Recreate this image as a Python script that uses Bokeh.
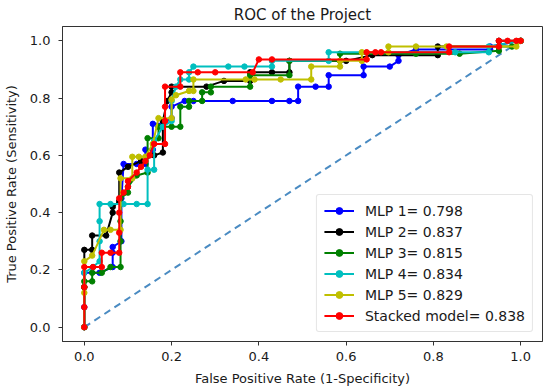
from bokeh.plotting import figure
from bokeh.models import Range1d, FixedTicker, PrintfTickFormatter, Legend, LegendItem
from bokeh.embed import file_html
from bokeh.resources import INLINE

# ---------------- data ----------------
labels = ["MLP 1= 0.798", "MLP 2= 0.837", "MLP 3= 0.815", "MLP 4= 0.834",
          "MLP 5= 0.829", "Stacked model= 0.838"]
colors = ["#0000ff", "#000000", "#008000", "#00bfbf", "#bfbf00", "#ff0000"]

mlp1_fpr = [0, 0, 0, 0.035, 0.065, 0.065, 0.065, 0.085, 0.085, 0.09, 0.12, 0.14, 0.14,
            0.157, 0.157, 0.18, 0.2, 0.2, 0.23, 0.25, 0.34, 0.43, 0.47, 0.49, 0.49,
            0.53, 0.56, 0.56, 0.64, 0.64, 0.7, 0.72, 0.72, 0.76, 0.93, 0.93, 1.0]
mlp1_tpr = [0, 0.07, 0.19, 0.19, 0.21, 0.26, 0.28, 0.30, 0.45, 0.57, 0.57, 0.57, 0.62,
            0.62, 0.71, 0.71, 0.73, 0.77, 0.79, 0.79, 0.79, 0.79, 0.79, 0.79, 0.84,
            0.84, 0.84, 0.88, 0.88, 0.91, 0.91, 0.93, 0.95, 0.97, 0.97, 0.98, 1.0]

mlp2_fpr = [0, 0, 0, 0.018, 0.018, 0.05, 0.065, 0.065, 0.08, 0.08, 0.1, 0.13, 0.16,
            0.18, 0.18, 0.19, 0.2, 0.2, 0.28, 0.32, 0.38, 0.38, 0.43, 0.47, 0.47,
            0.6, 0.66, 0.81, 0.81, 0.95, 0.95, 1.0]
mlp2_tpr = [0, 0.14, 0.27, 0.27, 0.32, 0.32, 0.40, 0.42, 0.44, 0.54, 0.56, 0.58, 0.60,
            0.61, 0.72, 0.79, 0.82, 0.84, 0.84, 0.86, 0.86, 0.89, 0.89, 0.89, 0.93,
            0.93, 0.95, 0.95, 0.98, 0.98, 1.0, 1.0]

mlp3_fpr = [0, 0, 0, 0.018, 0.018, 0.04, 0.06, 0.083, 0.083, 0.083, 0.083, 0.1, 0.1,
            0.12, 0.145, 0.145, 0.17, 0.17, 0.2, 0.22, 0.22, 0.24, 0.24, 0.27, 0.27,
            0.29, 0.29, 0.38, 0.38, 0.47, 0.47, 0.586, 0.586, 0.76, 0.86, 0.95, 0.95,
            0.98, 1.0]
mlp3_tpr = [0, 0.14, 0.16, 0.16, 0.19, 0.19, 0.21, 0.21, 0.30, 0.37, 0.45, 0.47, 0.49,
            0.53, 0.54, 0.66, 0.66, 0.70, 0.70, 0.70, 0.77, 0.77, 0.79, 0.79, 0.82,
            0.82, 0.84, 0.84, 0.88, 0.88, 0.93, 0.93, 0.955, 0.955, 0.955, 0.965, 0.98,
            0.98, 1.0]

mlp4_fpr = [0, 0, 0.02, 0.035, 0.035, 0.035, 0.035, 0.06, 0.09, 0.12, 0.145, 0.145,
            0.16, 0.16, 0.18, 0.2, 0.2, 0.21, 0.22, 0.24, 0.24, 0.25, 0.33, 0.367,
            0.43, 0.43, 0.56, 0.56, 0.85, 0.927, 0.927, 1.0]
mlp4_tpr = [0, 0.19, 0.21, 0.23, 0.30, 0.37, 0.43, 0.43, 0.43, 0.43, 0.43, 0.55, 0.55,
            0.65, 0.70, 0.72, 0.79, 0.84, 0.865, 0.865, 0.89, 0.91, 0.91, 0.91, 0.91,
            0.93, 0.93, 0.96, 0.96, 0.96, 0.98, 1.0]

mlp5_fpr = [0, 0, 0, 0.018, 0.045, 0.06, 0.083, 0.083, 0.11, 0.11, 0.125, 0.14, 0.157,
            0.17, 0.2, 0.2, 0.21, 0.24, 0.25, 0.25, 0.37, 0.39, 0.45, 0.52, 0.52,
            0.586, 0.586, 0.636, 0.636, 0.697, 0.697, 0.76, 0.83, 0.99, 1.0]
mlp5_tpr = [0, 0.12, 0.23, 0.25, 0.34, 0.34, 0.34, 0.52, 0.52, 0.595, 0.595, 0.595,
            0.64, 0.73, 0.73, 0.795, 0.81, 0.825, 0.825, 0.865, 0.865, 0.865, 0.865,
            0.865, 0.91, 0.91, 0.93, 0.93, 0.96, 0.96, 0.98, 0.98, 0.98, 0.98, 1.0]

stack_fpr = [0, 0, 0, 0, 0.02, 0.04, 0.04, 0.06, 0.08, 0.08, 0.08, 0.08, 0.09, 0.1,
             0.1, 0.12, 0.13, 0.14, 0.15, 0.16, 0.185, 0.185, 0.185, 0.185, 0.22, 0.22,
             0.26, 0.30, 0.386, 0.40, 0.43, 0.647, 0.647, 0.667, 0.68, 0.836, 0.836,
             0.95, 0.95, 0.97, 0.99, 1.0]
stack_tpr = [0, 0.07, 0.14, 0.21, 0.21, 0.21, 0.26, 0.26, 0.26, 0.33, 0.40, 0.45, 0.47,
             0.49, 0.51, 0.54, 0.56, 0.58, 0.60, 0.64, 0.64, 0.72, 0.77, 0.84, 0.84,
             0.89, 0.89, 0.89, 0.89, 0.935, 0.935, 0.935, 0.96, 0.96, 0.96, 0.96, 0.98,
             0.98, 1.0, 1.0, 1.0, 1.0]

chance_x = [0, 1]
chance_y = [0, 1]

x_ticks = [0.0, 0.2, 0.4, 0.6, 0.8, 1.0]
y_ticks = [0.0, 0.2, 0.4, 0.6, 0.8, 1.0]

series = [(mlp1_fpr, mlp1_tpr), (mlp2_fpr, mlp2_tpr), (mlp3_fpr, mlp3_tpr),
          (mlp4_fpr, mlp4_tpr), (mlp5_fpr, mlp5_tpr), (stack_fpr, stack_tpr)]

# ---------------- figure ----------------
FONT = "DejaVu Sans"
TXT = "#1a1a1a"
SPINE = "#333333"

p = figure(width=550, height=390, output_backend="svg", toolbar_location=None,
           x_range=Range1d(-0.05, 1.05), y_range=Range1d(-0.05, 1.05),
           title="ROC of the Project",
           min_border_left=61, min_border_right=8, min_border_top=26,
           min_border_bottom=49)
p.background_fill_color = "white"
p.border_fill_color = "white"
p.outline_line_color = SPINE
p.outline_line_width = 1
p.xgrid.visible = False
p.ygrid.visible = False

p.title.align = "center"
p.title.text_font = FONT
p.title.text_font_size = "15px"
p.title.text_font_style = "normal"
p.title.text_color = TXT
p.title.standoff = 5

for ax, ticks, lab in ((p.xaxis[0], x_ticks, "False Positive Rate (1-Specificity)"),
                       (p.yaxis[0], y_ticks, "True Positive Rate (Sensitivity)")):
    ax.ticker = FixedTicker(ticks=ticks)
    ax.formatter = PrintfTickFormatter(format="%.1f")
    ax.axis_label = lab
    ax.axis_label_text_font = FONT
    ax.axis_label_text_font_size = "13px"
    ax.axis_label_text_font_style = "normal"
    ax.axis_label_text_color = TXT
    ax.major_label_text_font = FONT
    ax.major_label_text_font_size = "13px"
    ax.major_label_text_color = TXT
    ax.axis_line_color = SPINE
    ax.major_tick_line_color = SPINE
    ax.major_tick_out = 4
    ax.major_tick_in = 0
    ax.minor_tick_line_color = None

p.xaxis[0].major_label_standoff = 6
p.xaxis[0].axis_label_standoff = 7
p.yaxis[0].major_label_standoff = 8
p.yaxis[0].axis_label_standoff = 8

# chance diagonal
p.line(chance_x, chance_y, line_color="#4a8bc2", line_width=2, line_dash="7 5")

items = []
for (fx, ty), col, lab in zip(series, colors, labels):
    lr = p.line(fx, ty, line_color=col, line_width=2)
    sr = p.scatter(fx, ty, marker="circle", size=5.5, fill_color=col, line_color=col)
    items.append(LegendItem(label=lab, renderers=[lr, sr]))

legend = Legend(items=items, location="bottom_right")
legend.margin = 9
legend.padding = 7
legend.spacing = 4
legend.glyph_width = 30
legend.glyph_height = 17
legend.label_height = 17
legend.label_standoff = 11
legend.label_text_font = FONT
legend.label_text_font_size = "14px"
legend.label_text_color = TXT
legend.border_line_color = "#cccccc"
legend.border_line_width = 1
legend.background_fill_color = "white"
legend.background_fill_alpha = 0.85
if "border_radius" in legend.properties():
    legend.border_radius = 3
p.add_layout(legend, "center")

open("out.html", "w").write(file_html(p, INLINE))
